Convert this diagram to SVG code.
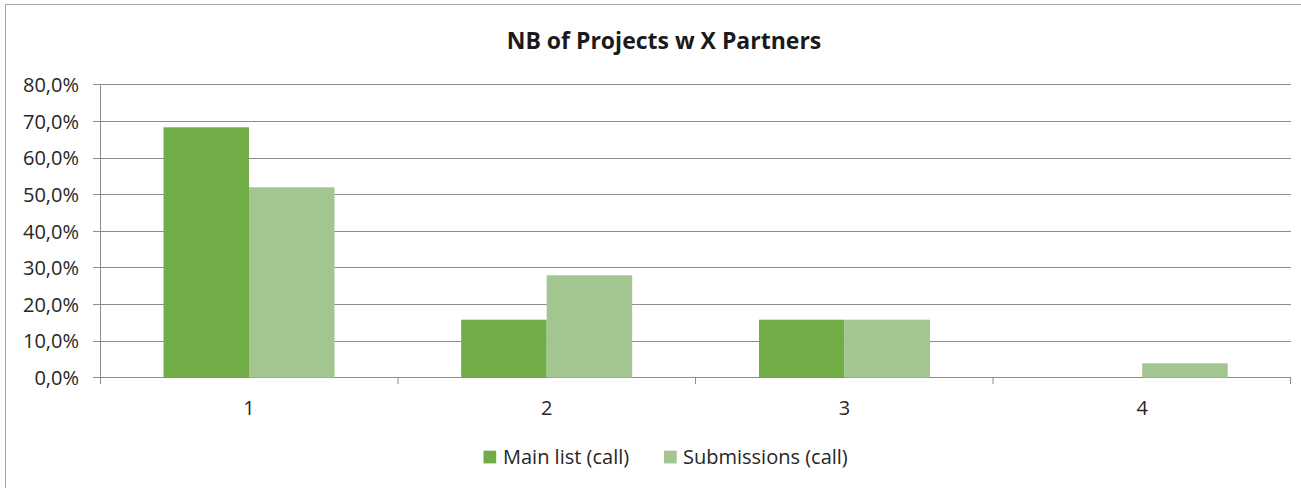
<svg xmlns="http://www.w3.org/2000/svg" width="1301" height="488" viewBox="0 0 1301 488">
  <style>
    .frame { fill: #ffffff; stroke: #a6a6a6; stroke-width: 1; }
    .grid { stroke: #8c8c8c; stroke-width: 1; fill: none; }
    .axis { stroke: #8c8c8c; stroke-width: 1; fill: none; }
    .main { fill: #70ad47; }
    .sub { fill: #a3c58f; }
    .lbl { font-family: "Open Sans", Lato, "Liberation Sans", sans-serif; font-size: 20px; fill: #262626; }
    .ylbl { text-anchor: end; }
    .xlbl { text-anchor: middle; }
    .leg { font-size: 20px; }
    .title { font-family: "Open Sans", Lato, "Liberation Sans", sans-serif; font-size: 23px; font-weight: bold; fill: #1a1a1a; text-anchor: middle; }
  </style>

  <!-- chart frame -->
  <rect class="frame" x="5.5" y="4.5" width="1310" height="500"/>

  <text class="title" x="664" y="49">NB of Projects w X Partners</text>

  <!-- gridlines, y axis and ticks -->
  <g id="grid">
    <path class="grid" d="M93 84.5H1291 M93 121.5H1291 M93 158.5H1291 M93 194.5H1291 M93 231.5H1291 M93 267.5H1291 M93 304.5H1291 M93 341.5H1291"/>
    <path class="axis" d="M93 377.5H1291 M100.5 84.5V384 M398 377.5V384 M695.5 377.5V384 M993 377.5V384 M1290.5 377.5V384"/>
  </g>

  <!-- y axis labels -->
  <g id="y-labels" class="lbl ylbl">
    <text x="79" y="92">80,0%</text>
    <text x="79" y="129">70,0%</text>
    <text x="79" y="165">60,0%</text>
    <text x="79" y="202">50,0%</text>
    <text x="79" y="239">40,0%</text>
    <text x="79" y="275">30,0%</text>
    <text x="79" y="312">20,0%</text>
    <text x="79" y="348">10,0%</text>
    <text x="79" y="385">0,0%</text>
  </g>

  <!-- bars: series "Main list (call)" -->
  <g id="series-main">
    <rect class="main" x="163.5" y="127.3" width="85.5" height="250.4"/>
    <rect class="main" x="461.2" y="319.7" width="85.5" height="58"/>
    <rect class="main" x="759" y="319.7" width="85.5" height="58"/>
  </g>

  <!-- bars: series "Submissions (call)" -->
  <g id="series-sub">
    <rect class="sub" x="249" y="187.3" width="85.5" height="190.4"/>
    <rect class="sub" x="546.7" y="275.3" width="85.5" height="102.4"/>
    <rect class="sub" x="844.5" y="319.7" width="85.5" height="58"/>
    <rect class="sub" x="1142.2" y="363.3" width="85.5" height="14.4"/>
  </g>

  <!-- category labels -->
  <g id="x-labels" class="lbl xlbl">
    <text x="249" y="415">1</text>
    <text x="546.7" y="415">2</text>
    <text x="844.5" y="415">3</text>
    <text x="1142.2" y="415">4</text>
  </g>

  <!-- legend -->
  <g id="legend">
    <g id="legend-main">
      <rect class="main" x="483.5" y="450.7" width="12.7" height="12.7"/>
      <text class="lbl leg" x="503" y="464">Main list (call)</text>
    </g>
    <g id="legend-sub">
      <rect class="sub" x="664" y="450.7" width="12.7" height="12.7"/>
      <text class="lbl leg" x="683" y="464">Submissions (call)</text>
    </g>
  </g>
</svg>
